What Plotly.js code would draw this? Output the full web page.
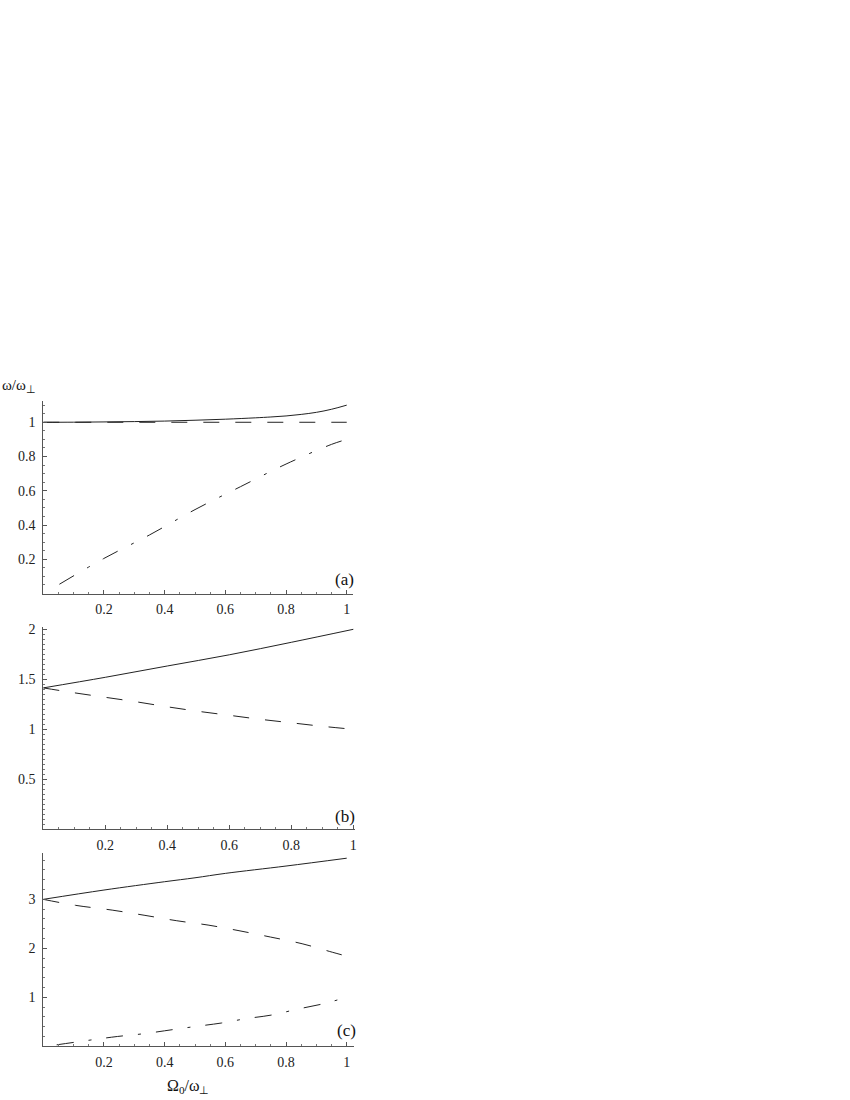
<!DOCTYPE html>
<html>
<head>
<meta charset="utf-8">
<script src="https://cdn.plot.ly/plotly-3.0.1.min.js"></script>
<style>
  body { margin: 0; background: #fff; }
  #chart { width: 850px; height: 1100px; }
</style>
</head>
<body>
<div id="chart"></div>
<script>
// --- Data ---
// panel (a)
const aSolidX = [0, 0.1, 0.2, 0.3, 0.4, 0.5, 0.6, 0.7, 0.75, 0.8, 0.85, 0.9, 0.95, 1.0];
const aSolidY = [1.0, 1.0005, 1.002, 1.004, 1.007, 1.012, 1.018, 1.026, 1.031, 1.037, 1.046, 1.058, 1.076, 1.10];
const aDashX = [0, 1.0];
const aDashY = [1.0, 1.0];
const aDotX = [0.053, 0.2, 0.35, 0.5, 0.65, 0.8, 0.95, 1.0];
const aDotY = [0.054, 0.205, 0.342, 0.49, 0.624, 0.756, 0.871, 0.90];

// panel (b)
const bSolidX = [0, 0.2, 0.4, 0.6, 0.8, 1.0];
const bSolidY = [1.414, 1.52, 1.633, 1.745, 1.87, 2.0];
const bDashX = [0, 0.1, 0.2, 0.3, 0.4, 0.5, 0.6, 0.7, 0.8, 0.9, 1.0];
const bDashY = [1.414, 1.365, 1.32, 1.275, 1.225, 1.18, 1.14, 1.10, 1.065, 1.03, 1.0];

// panel (c)
const cSolidX = [0, 0.2, 0.4, 0.5, 0.6, 0.8, 1.0];
const cSolidY = [3.0, 3.19, 3.36, 3.44, 3.53, 3.68, 3.84];
const cDashX = [0, 0.107, 0.227, 0.335, 0.44, 0.543, 0.645, 0.749, 0.853, 0.954, 1.0];
const cDashY = [3.0, 2.877, 2.78, 2.673, 2.563, 2.475, 2.36, 2.23, 2.094, 1.918, 1.84];
const cDotX = [0.044, 0.165, 0.244, 0.335, 0.426, 0.502, 0.588, 0.668, 0.754, 0.835, 0.919, 1.0];
const cDotY = [0.03, 0.136, 0.2, 0.26, 0.34, 0.405, 0.476, 0.564, 0.64, 0.755, 0.863, 1.0];

// tick labels
const xTickVals = [0.2, 0.4, 0.6, 0.8, 1];
const xTickText = ['0.2', '0.4', '0.6', '0.8', '1'];
const aTickVals = [0.2, 0.4, 0.6, 0.8, 1];
const aTickText = ['0.2', '0.4', '0.6', '0.8', '1'];
const bTickVals = [0.5, 1, 1.5, 2];
const bTickText = ['0.5', '1', '1.5', '2'];
const cTickVals = [1, 2, 3];
const cTickText = ['1', '2', '3'];

// --- Helpers ---
const W = 850, H = 1100;
const fx = px => px / W;
const fy = py => (H - py) / H;
const serif = "'Liberation Serif', 'Times New Roman', serif";
const lineCol = '#222';

function trace(x, y, dash, n) {
    return {
        x, y, mode: 'lines', type: 'scatter',
        xaxis: 'x' + (n === 1 ? '' : n), yaxis: 'y' + (n === 1 ? '' : n),
        line: { color: lineCol, width: 1, dash, shape: 'spline', smoothing: 1 },
        hoverinfo: 'skip', showlegend: false
    };
}

function xAxis(domain, range, anchor) {
    return {
        domain, range, anchor,
        showline: true, linecolor: '#555', linewidth: 1,
        showgrid: false, zeroline: false,
        ticks: 'inside', ticklen: 4, tickwidth: 1, tickcolor: '#555',
        tickmode: 'array', tickvals: xTickVals, ticktext: xTickText,
        minor: { ticks: 'inside', ticklen: 2, tickwidth: 1, tickcolor: '#777', dtick: 0.05, tick0: 0 },
        tickfont: { family: serif, size: 14, color: '#222' },
        ticklabelstandoff: 3
    };
}

function yAxis(domain, range, anchor, vals, text, minorStep) {
    return {
        domain, range, anchor,
        showline: true, linecolor: '#555', linewidth: 1,
        showgrid: false, zeroline: false,
        ticks: 'inside', ticklen: 4, tickwidth: 1, tickcolor: '#555',
        tickmode: 'array', tickvals: vals, ticktext: text,
        minor: { ticks: 'inside', ticklen: 2, tickwidth: 1, tickcolor: '#777', dtick: minorStep, tick0: 0 },
        tickfont: { family: serif, size: 14, color: '#222' },
        ticklabelstandoff: 4
    };
}

const dashPat = '16px,16px';
const dotPat = '17px,15px,3px,15px';

const data = [
    trace(aSolidX, aSolidY, 'solid', 1),
    trace(aDashX, aDashY, dashPat, 1),
    trace(aDotX, aDotY, dotPat, 1),
    trace(bSolidX, bSolidY, 'solid', 2),
    trace(bDashX, bDashY, dashPat, 2),
    trace(cSolidX, cSolidY, 'solid', 3),
    trace(cDashX, cDashY, dashPat, 3),
    trace(cDotX, cDotY, dotPat, 3)
];

function label(text, px, py, size, xanchor) {
    return {
        text, xref: 'paper', yref: 'paper', x: fx(px), y: fy(py),
        xanchor: xanchor || 'center', yanchor: 'middle', showarrow: false,
        font: { family: serif, size, color: '#111' }
    };
}

const layout = {
    width: W, height: H,
    margin: { l: 0, r: 0, t: 0, b: 0 },
    paper_bgcolor: '#fff', plot_bgcolor: '#fff',
    xaxis: xAxis([fx(43.3), fx(352.8)], [0, 1.02], 'y'),
    yaxis: yAxis([fy(593.5), fy(400.7)], [0, 1.126], 'x', aTickVals, aTickText, 0.05),
    xaxis2: xAxis([fx(43.3), fx(355)], [0, 1.0055], 'y2'),
    yaxis2: yAxis([fy(829.3), fy(627.3)], [0, 2.02], 'x2', bTickVals, bTickText, 0.05),
    xaxis3: xAxis([fx(43.3), fx(354)], [0, 1.024], 'y3'),
    yaxis3: yAxis([fy(1046.3), fy(853.3)], [0, 3.94], 'x3', cTickVals, cTickText, 0.2),
    annotations: [
        label('ω/ω<sub>⊥</sub>', 0, 386, 15, 'left'),
        label('Ω<sub>0</sub>/ω<sub>⊥</sub>', 188, 1086, 16),
        label('(a)', 344, 579, 17),
        label('(b)', 345, 816, 17),
        label('(c)', 346, 1030, 17)
    ]
};

Plotly.newPlot('chart', data, layout, { staticPlot: true });
</script>
</body>
</html>
